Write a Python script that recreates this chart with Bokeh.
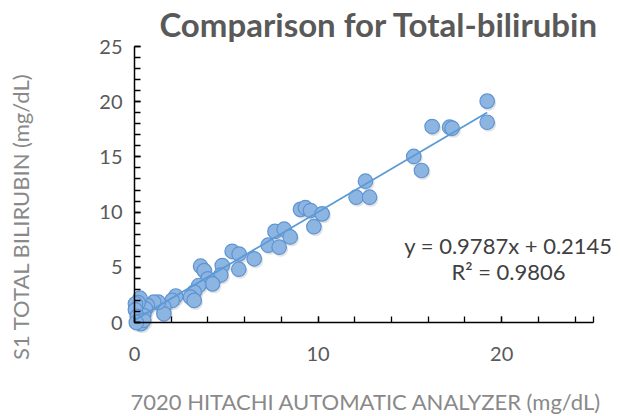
import math
from bokeh.plotting import figure
from bokeh.models import Range1d, FixedTicker, Label
from bokeh.embed import file_html
from bokeh.resources import INLINE

title_text = "Comparison for Total-bilirubin"
x_label = "7020 HITACHI AUTOMATIC ANALYZER (mg/dL)"
y_label = "S1 TOTAL BILIRUBIN (mg/dL)"
eq_line1 = "y = 0.9787x + 0.2145"
eq_line2 = "R\u00b2 = 0.9806"
slope = 0.9787
intercept = 0.2145

x_ticks = [0, 10, 20]
x_minor = [0, 2, 4, 6, 8, 10, 12, 14, 16, 18, 20, 22, 24, 25]
y_ticks = [0, 5, 10, 15, 20, 25]
y_minor = list(range(0, 26))

hitachi = [19.21, 19.21, 16.21, 17.16, 17.30, 15.21, 15.63, 12.58, 12.07, 12.80,
           9.04, 9.31, 9.59, 10.22, 9.77, 7.65, 8.15, 8.48, 7.28, 7.88,
           6.52, 5.32, 5.70, 5.68, 4.78, 4.70, 3.60, 3.80, 4.00, 4.25,
           3.50, 3.25, 3.05, 3.25, 2.25, 2.05, 1.60, 1.60, 1.30, 1.05,
           0.70, 0.60, 0.50, 0.30, 0.20, 0.05, 0.05, 0.15, 0.25, 0.35,
           0.50, 0.10]
s1 = [20.05, 18.14, 17.75, 17.69, 17.60, 15.04, 13.77, 12.80, 11.35, 11.35,
      10.25, 10.40, 10.14, 9.84, 8.68, 8.25, 8.45, 7.75, 7.00, 6.82,
      5.77, 6.45, 6.20, 4.83, 5.16, 4.30, 5.10, 4.70, 3.95, 3.50,
      3.35, 2.75, 2.30, 2.00, 2.40, 2.00, 1.40, 0.79, 1.84, 1.84,
      1.55, 1.24, 0.63, 2.20, 1.80, 1.70, 1.15, 0.55, 0.10, -0.10,
      0.20, 0.00]

# frame geometry (pixels per unit) used for the subtle drop shadow offset
px_x = 18.36
px_y = 11.04

p = figure(width=630, height=416,
           x_range=Range1d(-7.298, 27.015), y_range=Range1d(-8.514, 29.167),
           min_border_left=0, min_border_right=0, min_border_top=0, min_border_bottom=0,
           output_backend="svg", toolbar_location=None)
p.outline_line_color = None
p.xgrid.visible = False
p.ygrid.visible = False
p.background_fill_color = "white"
p.border_fill_color = "white"

font = "Lato"
tick_color = "#595959"

for ax, ticks, minor in ((p.xaxis, x_ticks, x_minor), (p.yaxis, y_ticks, y_minor)):
    ax.ticker = FixedTicker(ticks=ticks, minor_ticks=minor)
    ax.fixed_location = 0
    ax.bounds = (0, 25)
    ax.axis_line_color = "black"
    ax.axis_line_width = 1.5
    ax.major_tick_in = 6
    ax.major_tick_out = 0
    ax.minor_tick_in = 6
    ax.minor_tick_out = 0
    ax.major_tick_line_color = "black"
    ax.minor_tick_line_color = "black"
    ax.major_tick_line_width = 1.3
    ax.minor_tick_line_width = 1.3
    ax.major_label_text_font = font
    ax.major_label_text_font_size = "20px"
    ax.major_label_text_color = tick_color

p.xaxis.major_label_standoff = 24
p.yaxis.major_label_standoff = 12

# shadow
sx = [v + 1.5 / px_x for v in hitachi]
sy = [v - 2.0 / px_y for v in s1]
p.scatter(sx, sy, size=15, fill_color="#7f7f7f", fill_alpha=0.22, line_color=None)

p.scatter(hitachi, s1, size=14.5, fill_color="#8DB5E2", line_color="#5F93D2", line_width=1.2)

xl = [0, max(hitachi)]
yl = [slope * v + intercept for v in xl]
p.line(xl, yl, line_color="#5B9BD5", line_width=1.8)

p.add_layout(Label(x=13.32, y=27.0, text=title_text, text_font=font, text_font_style="bold",
                   text_font_size="33px", text_color="#595959", text_align="center",
                   text_baseline="middle"))
p.add_layout(Label(x=12.61, y=-7.16, text=x_label, text_font=font, text_font_size="22px",
                   text_color="#898989", text_align="center", text_baseline="middle"))
p.add_layout(Label(x=-6.21, y=9.6, text=y_label, text_font=font, text_font_size="22px",
                   text_color="#898989", text_align="center", text_baseline="middle",
                   angle=math.pi / 2))
p.add_layout(Label(x=20.37, y=7.0, text=eq_line1, text_font=font, text_font_size="22px",
                   text_color="#404040", text_align="center", text_baseline="middle"))
p.add_layout(Label(x=20.37, y=4.6, text=eq_line2, text_font=font, text_font_size="22px",
                   text_color="#404040", text_align="center", text_baseline="middle"))

open("out.html", "w").write(file_html(p, INLINE))
